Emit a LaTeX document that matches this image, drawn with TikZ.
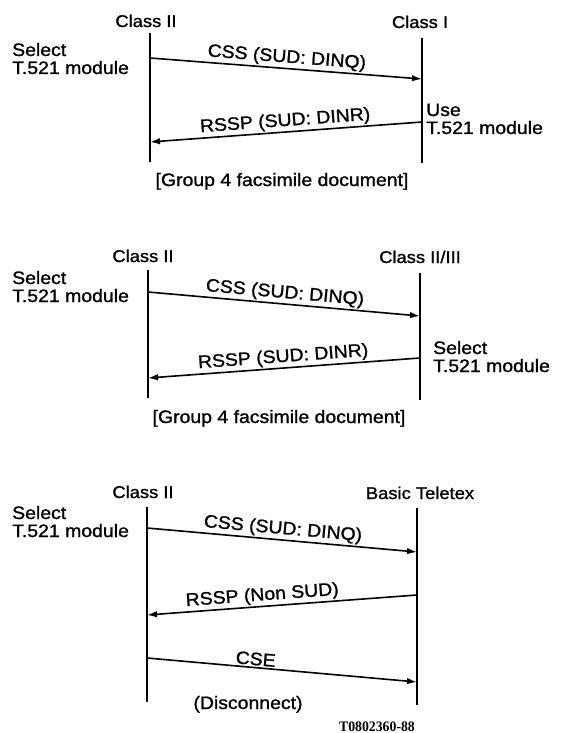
\documentclass[tikz,border=0pt]{standalone}
\usepackage{fontspec}
\setmainfont{Liberation Sans}[FakeStretch=1.08,FakeBold=1.2]
\newfontfamily\codefont{Liberation Serif}[FakeStretch=0.95]
\usetikzlibrary{arrows.meta}
\begin{document}
\begin{tikzpicture}[x=1pt,y=-1pt,
  lifeline/.style={line width=2.3pt},
  msg/.style={line width=1.6pt,-{Latex[length=10pt,width=6.5pt]}},
  lbl/.style={font=\fontsize{18}{18}\selectfont, sloped, above, inner sep=1.5pt},
  hdr/.style={font=\fontsize{17}{17}\selectfont, anchor=base, inner sep=0pt},
  note/.style={font=\fontsize{18}{18}\selectfont, anchor=base west, inner sep=0pt},
  captxt/.style={font=\fontsize{18}{18}\selectfont, anchor=base, inner sep=0pt},
  codetxt/.style={font=\codefont\bfseries\fontsize{14.5}{14.5}\selectfont, anchor=base, inner sep=0pt}]
\useasboundingbox (0,0) rectangle (561,733);

% ---------- Diagram 1 ----------
\node[hdr] (h1l) at (146,27) {Class II};
\node[hdr] (h1r) at (420,28) {Class I};
\coordinate (L1t) at (150,33);  \coordinate (L1b) at (150,162);
\coordinate (R1t) at (422,38);  \coordinate (R1b) at (422,163);
\draw[lifeline] (L1t) -- (L1b);
\draw[lifeline] (R1t) -- (R1b);
\coordinate (m1a) at (150,58);  \coordinate (m1b) at (422,79);
\coordinate (m1c) at (422,122); \coordinate (m1d) at (150,142);
\draw[msg] (m1a) -- node[lbl] (t1a) {CSS (SUD: DINQ)} (m1b);
\draw[msg] (m1c) -- node[lbl] (t1b) {RSSP (SUD: DINR)} (m1d);
\node[note] (n1a) at (12,56) {Select};
\node[note] (n1b) at (12,74) {T.521 module};
\node[note] (n1c) at (426,116) {Use};
\node[note] (n1d) at (426,134) {T.521 module};
\node[captxt] (c1) at (282,186) {[Group 4 facsimile document]};

% ---------- Diagram 2 ----------
\node[hdr] (h2l) at (143,262) {Class II};
\node[hdr] (h2r) at (420,263) {Class II/III};
\coordinate (L2t) at (148,270);  \coordinate (L2b) at (148,398);
\coordinate (R2t) at (420,273);  \coordinate (R2b) at (420,400);
\draw[lifeline] (L2t) -- (L2b);
\draw[lifeline] (R2t) -- (R2b);
\coordinate (m2a) at (148,292);  \coordinate (m2b) at (420,316);
\coordinate (m2c) at (420,358);  \coordinate (m2d) at (148,378);
\draw[msg] (m2a) -- node[lbl] (t2a) {CSS (SUD: DINQ)} (m2b);
\draw[msg] (m2c) -- node[lbl] (t2b) {RSSP (SUD: DINR)} (m2d);
\node[note] (n2a) at (12,284) {Select};
\node[note] (n2b) at (12,302) {T.521 module};
\node[note] (n2c) at (433,354) {Select};
\node[note] (n2d) at (433,372) {T.521 module};
\node[captxt] (c2) at (279,423) {[Group 4 facsimile document]};

% ---------- Diagram 3 ----------
\node[hdr] (h3l) at (143,498) {Class II};
\node[hdr] (h3r) at (420,499) {Basic Teletex};
\coordinate (L3t) at (147,507);  \coordinate (L3b) at (147,702);
\coordinate (R3t) at (417,508);  \coordinate (R3b) at (417,705);
\draw[lifeline] (L3t) -- (L3b);
\draw[lifeline] (R3t) -- (R3b);
\coordinate (m3a) at (147,528);  \coordinate (m3b) at (417,552);
\coordinate (m3c) at (417,595);  \coordinate (m3d) at (147,615);
\coordinate (m3e) at (147,658);  \coordinate (m3f) at (417,682);
\draw[msg] (m3a) -- node[lbl] (t3a) {CSS (SUD: DINQ)} (m3b);
\draw[msg] (m3c) -- node[lbl,pos=0.57] (t3b) {RSSP (Non SUD)} (m3d);
\draw[msg] (m3e) -- node[lbl,pos=0.4] (t3c) {CSE} (m3f);
\node[note] (n3a) at (12,519) {Select};
\node[note] (n3b) at (12,537) {T.521 module};
\node[captxt] (c3) at (248,709) {(Disconnect)};
\node[codetxt] (id) at (377,731) {T0802360-88};
\end{tikzpicture}
\end{document}
